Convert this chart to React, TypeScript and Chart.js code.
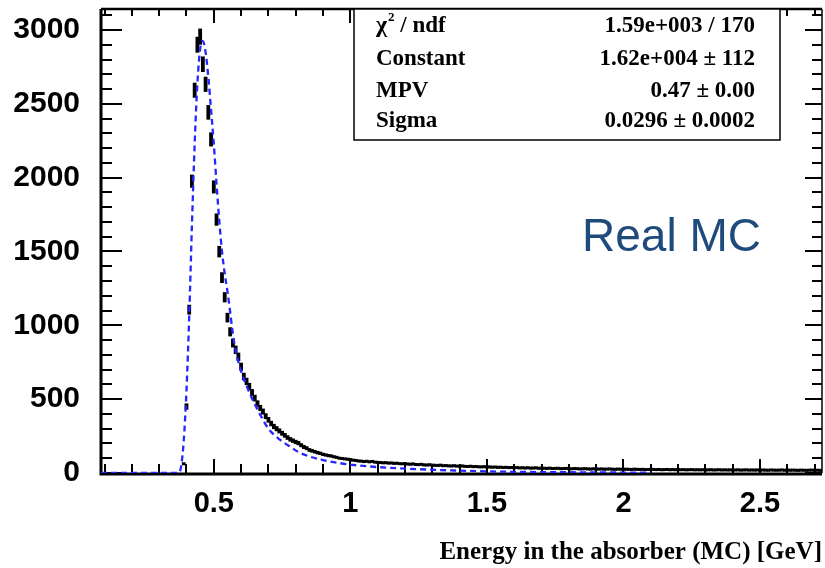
import React, { useEffect, useRef } from "react";
import { Chart, registerables } from "chart.js";

Chart.register(...registerables);

// Histogram: bin centres start at BIN_START, uniform width BIN_WIDTH (GeV)
const BIN_START = 0.39;
const BIN_WIDTH = 0.01;
const COUNTS = [
  60, 450, 1106, 1976, 2592, 2900, 2955, 2768, 2632, 2442,
  2259, 1937, 1716, 1499, 1323, 1190, 1052, 956, 880, 834,
  787, 720, 653, 620, 586, 545, 507, 470, 440, 416,
  385, 360, 335, 315, 300, 285, 269, 255, 240, 228,
  219, 210, 202, 188, 176, 168, 156, 150, 144, 138,
  133, 126, 122, 118, 115, 110, 106, 100, 98, 95,
  93, 90,
  86, 84, 80, 79, 76, 78, 74, 77, 72, 70,
  69, 67, 68, 65, 66, 63, 64, 61, 60, 62,
  58, 57, 59, 55, 54, 56, 52, 51, 53, 50,
  49, 48, 50, 46, 47, 45, 44, 46, 43, 42,
  44, 41, 40, 42, 39, 40, 38, 37, 39, 36,
  37, 35, 36, 34, 35, 33, 34, 32, 33, 31,
  32, 30, 31, 29, 31, 28, 29, 30, 27, 28,
  27, 26, 28, 25, 26, 27, 24, 25, 26, 24,
  23, 25, 24, 22, 23, 24, 22, 21, 23, 22,
  21, 22, 20, 21, 22, 20, 19, 21, 20, 19,
  20, 19, 18, 20, 19, 18, 19, 17, 18, 19,
  18, 17, 18, 16, 17, 18, 16, 17, 16, 17,
  16, 17, 15, 16, 17, 15, 16, 15, 16, 14,
  15, 16, 14, 15, 16, 14, 15, 14, 15, 13,
  14, 15, 13, 14, 15, 13, 14, 13, 14, 12,
  14, 13, 12, 14, 13, 12, 13, 14, 12, 13,
  12, 13, 12, 11, 13, 12, 11, 12, 13, 11, 12, 11,
];

// Landau fit curve
const FIT_X = [
  0.087, 0.37, 0.38, 0.39, 0.4, 0.41, 0.42, 0.43, 0.44, 0.45, 0.46, 0.47,
  0.48, 0.49, 0.5, 0.51, 0.52, 0.53, 0.54, 0.55, 0.56, 0.57, 0.58, 0.6,
  0.62, 0.64, 0.66, 0.68, 0.7, 0.72, 0.75, 0.78, 0.81, 0.85, 0.9, 0.95,
  1.0, 1.1, 1.2, 1.3, 1.4, 1.5, 1.6, 1.8, 2.0, 2.1,
];
const FIT_Y = [
  0, 0, 40, 220, 560, 1060, 1680, 2230, 2640, 2870, 2925, 2850,
  2680, 2460, 2230, 1960, 1710, 1500, 1350, 1230, 1090, 940, 830, 690,
  590, 505, 430, 360, 300, 260, 215, 178, 142, 112, 88, 70,
  57, 40, 30, 22, 16, 11, 8, 5, 3, 2,
];

const X_TICKS = [0.5, 1, 1.5, 2, 2.5];
const Y_TICKS = [0, 500, 1000, 1500, 2000, 2500, 3000];
const X_MIN = 0.087;
const X_MAX = 2.727;
const Y_MIN = 0;
const Y_MAX = 3142;

const X_TITLE = "Energy in the absorber (MC) [GeV]";
const STATS_LABELS = ["χ² / ndf", "Constant", "MPV", "Sigma"];
const STATS_VALUES = ["1.59e+003 / 170", "1.62e+004 ± 112", "0.47 ± 0.00", "0.0296 ± 0.0002"];
const NOTE_TEXT = "Real MC";

const SERIF = '"Liberation Serif", "Times New Roman", serif';
const SANS = '"Liberation Sans", Arial, sans-serif';

const rootFrame = {
  id: "rootFrame",
  beforeDatasetsDraw(chart: any) {
    const { ctx, chartArea: a, scales } = chart;
    const x = scales.x;
    const y = scales.y;
    ctx.save();
    ctx.strokeStyle = "#000";
    ctx.lineWidth = 2;
    ctx.beginPath();
    // x ticks every 0.1, major every 0.5
    for (let i = 1; i <= 27; i++) {
      const v = i / 10;
      if (v < X_MIN || v > X_MAX) continue;
      const px = Math.round(x.getPixelForValue(v));
      const major = i % 5 === 0;
      ctx.moveTo(px, a.bottom);
      ctx.lineTo(px, a.bottom - (major ? 14 : 9));
      ctx.moveTo(px, a.top);
      ctx.lineTo(px, a.top + (major ? 14 : 7));
    }
    // y ticks every 100, major every 500
    for (let i = 0; i <= 31; i++) {
      const v = i * 100;
      if (v > Y_MAX) continue;
      const py = Math.round(y.getPixelForValue(v));
      const major = i % 5 === 0;
      ctx.moveTo(a.left, py);
      ctx.lineTo(a.left + (major ? 21 : 11), py);
      ctx.moveTo(a.right, py);
      ctx.lineTo(a.right - (major ? 17 : 10), py);
    }
    ctx.stroke();
    // frame
    ctx.lineWidth = 3;
    ctx.beginPath();
    ctx.moveTo(a.left, a.top);
    ctx.lineTo(a.left, a.bottom + 1.5);
    ctx.moveTo(a.left - 1.5, a.bottom + 1);
    ctx.lineTo(a.right, a.bottom + 1);
    ctx.stroke();
    ctx.lineWidth = 2.5;
    ctx.beginPath();
    ctx.moveTo(a.left, a.top);
    ctx.lineTo(a.right, a.top);
    ctx.stroke();
    ctx.lineWidth = 1.5;
    ctx.beginPath();
    ctx.moveTo(a.right, a.top);
    ctx.lineTo(a.right, a.bottom);
    ctx.stroke();
    ctx.restore();
  },
  afterDraw(chart: any) {
    const { ctx, chartArea: a } = chart;
    ctx.save();
    // stats box
    const bx = a.left + 253;
    const by = a.top;
    const bw = 426;
    const bh = 131;
    ctx.fillStyle = "#fff";
    ctx.fillRect(bx, by, bw, bh);
    ctx.strokeStyle = "#000";
    ctx.lineWidth = 1.5;
    ctx.strokeRect(bx, by, bw, bh);
    ctx.fillStyle = "#000";
    const baselines = [33, 66, 98, 128];
    const fontMain = `bold 23px ${SERIF}`;
    STATS_LABELS.forEach((lab, i) => {
      const ly = a.top + baselines[i] - 10;
      ctx.textBaseline = "alphabetic";
      ctx.textAlign = "left";
      ctx.font = fontMain;
      let lx = bx + 22;
      if (lab.indexOf("²") >= 0) {
        const [pre, post] = lab.split("²");
        ctx.font = `bold 24px ${SERIF}`;
        ctx.fillText(pre, lx, ly);
        lx += ctx.measureText(pre).width;
        ctx.font = `bold 13px ${SERIF}`;
        ctx.fillText("2", lx + 1, ly - 11);
        lx += ctx.measureText("2").width + 1;
        ctx.font = fontMain;
        ctx.fillText(post, lx, ly);
      } else {
        ctx.fillText(lab, lx, ly);
      }
      ctx.textAlign = "right";
      ctx.font = fontMain;
      ctx.fillText(STATS_VALUES[i], bx + 401, ly);
    });
    // note
    ctx.textAlign = "left";
    ctx.font = `46px ${SANS}`;
    ctx.fillStyle = "#1f4a7c";
    ctx.fillText(NOTE_TEXT, 582, 251);
    ctx.restore();
  },
};

export default function App() {
  const ref = useRef<HTMLCanvasElement | null>(null);

  useEffect(() => {
    if (!ref.current) return;
    const histData = COUNTS.map((c, i) => ({
      x: BIN_START + i * BIN_WIDTH,
      y: [c - Math.sqrt(c), c + Math.sqrt(c)],
    }));
    const fitData = FIT_X.map((v, i) => ({ x: v, y: FIT_Y[i] }));

    const chart = new Chart(ref.current, {
      type: "bar",
      data: {
        datasets: [
          {
            type: "line",
            data: fitData,
            borderColor: "#2626ff",
            borderWidth: 2.3,
            borderDash: [6, 4],
            pointRadius: 0,
            fill: false,
            cubicInterpolationMode: "monotone",
            order: 0,
          } as any,
          {
            type: "bar",
            data: histData,
            backgroundColor: "#000",
            borderWidth: 0,
            barPercentage: 1.4,
            categoryPercentage: 1,
            minBarLength: 3,
            grouped: false,
            order: 1,
          } as any,
        ],
      },
      options: {
        animation: false,
        responsive: true,
        maintainAspectRatio: false,
        events: [],
        layout: { padding: { left: 0, right: 3, top: 9, bottom: 0 } },
        plugins: {
          legend: { display: false },
          tooltip: { enabled: false },
          title: { display: false },
        },
        scales: {
          x: {
            type: "linear",
            min: X_MIN,
            max: X_MAX,
            offset: false,
            grid: { display: false, drawTicks: false },
            border: { display: false },
            afterBuildTicks: (s: any) => {
              s.ticks = X_TICKS.map((v) => ({ value: v }));
            },
            afterFit: (s: any) => {
              s.height = 95;
              s.paddingLeft = 0;
              s.paddingRight = 0;
            },
            ticks: {
              autoSkip: false,
              maxRotation: 0,
              padding: 14,
              color: "#000",
              font: { family: SANS, size: 29, weight: "bold" },
              callback: (v: any) => String(v),
            },
            title: {
              display: true,
              text: X_TITLE,
              align: "end",
              color: "#000",
              font: { family: SERIF, size: 25, weight: "bold" },
              padding: { top: 0, bottom: 0 },
            },
          },
          y: {
            type: "linear",
            min: Y_MIN,
            max: Y_MAX,
            grid: { display: false, drawTicks: false },
            border: { display: false },
            afterBuildTicks: (s: any) => {
              s.ticks = Y_TICKS.map((v) => ({ value: v }));
            },
            afterFit: (s: any) => {
              s.width = 101;
              s.paddingTop = 0;
              s.paddingBottom = 0;
            },
            ticks: {
              autoSkip: false,
              padding: 21,
              color: "#000",
              font: { family: SANS, size: 30, weight: "bold" },
              callback: (v: any) => String(v),
            },
          },
        },
      } as any,
      plugins: [rootFrame],
    });
    return () => chart.destroy();
  }, []);

  return (
    <div style={{ position: "absolute", left: 0, top: 0, width: 825, height: 568, background: "#fff" }}>
      <canvas ref={ref} />
    </div>
  );
}
